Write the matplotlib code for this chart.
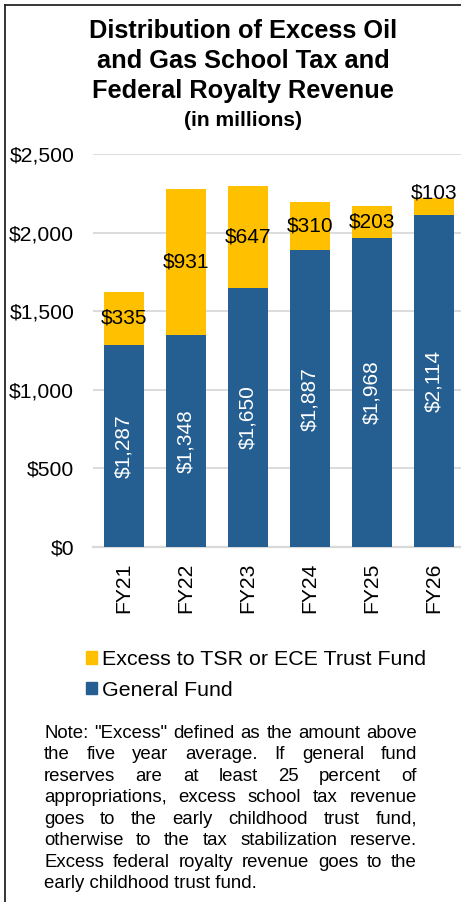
import matplotlib
matplotlib.use("Agg")
import matplotlib.pyplot as plt
from matplotlib.patches import Patch
from matplotlib.lines import Line2D

plt.rcParams["font.family"] = ["Liberation Sans", "DejaVu Sans"]

years = ["FY21", "FY22", "FY23", "FY24", "FY25", "FY26"]
general_fund = [1287, 1348, 1650, 1887, 1968, 2114]
excess = [335, 931, 647, 310, 203, 103]
y_ticks = [0, 500, 1000, 1500, 2000, 2500]

BLUE = "#255E91"
GOLD = "#FFC000"
GRID = "#D9D9D9"

W, H = 461, 902
fig = plt.figure(figsize=(W / 100, H / 100), dpi=100)


def px(x, y):
    """pixel coords (top-left origin) -> figure fraction"""
    return x / W, 1 - y / H


# outer frame (only left and top edges are visible in the crop)
fig.add_artist(Line2D([4.5 / W, 4.5 / W], [0, 1 - 4.5 / H], transform=fig.transFigure,
                      color="#262626", lw=1.3))
fig.add_artist(Line2D([4.5 / W, 1], [1 - 4.5 / H, 1 - 4.5 / H], transform=fig.transFigure,
                      color="#262626", lw=1.3))

# title
title_lines = ["Distribution of Excess Oil", "and Gas School Tax and", "Federal Royalty Revenue"]
for i, line in enumerate(title_lines):
    fig.text(*px(243, 37.5 + 30.3 * i), line, ha="center", va="baseline",
             fontsize=18.3, fontweight="bold")
fig.text(*px(243, 125.5), "(in millions)", ha="center", va="baseline",
         fontsize=15.2, fontweight="bold")

# chart
ax = fig.add_axes([93 / W, (H - 547) / H, 372 / W, 393 / H])
x = range(len(years))
ax.bar(x, general_fund, width=0.645, color=BLUE, zorder=3, label="General Fund")
ax.bar(x, excess, width=0.645, bottom=general_fund, color=GOLD, zorder=3,
       label="Excess to TSR or ECE Trust Fund")

for i, (g, e) in enumerate(zip(general_fund, excess)):
    ax.text(i, g / 2, f"${g:,}", rotation=90, ha="center", va="center",
            color="white", fontsize=15, zorder=4)
    # small segments: Excel pushes the label just above the bar
    ey = g + e / 2 if e > 150 else g + e + 35
    ax.text(i, ey, f"${e:,}", ha="center", va="center", color="black",
            fontsize=15, zorder=4)

ax.set_xlim(-0.5, len(years) - 0.5)
ax.set_ylim(0, 2500)
ax.set_yticks(y_ticks)
ax.set_yticklabels([f"${v:,}" for v in y_ticks])
ax.set_xticks(list(x))
ax.set_xticklabels(years, rotation=90)
ax.tick_params(axis="y", length=0, pad=13.5, labelsize=15.2)
ax.tick_params(axis="x", length=0, pad=11, labelsize=15.2)
ax.yaxis.grid(True, color=GRID, lw=1.3, zorder=0)
for s in ["top", "right", "left"]:
    ax.spines[s].set_visible(False)
ax.spines["bottom"].set_color(GRID)
ax.spines["bottom"].set_linewidth(1.6)
ax.spines["bottom"].set_zorder(2)

handles = [Patch(color=GOLD, label="Excess to TSR or ECE Trust Fund"),
           Patch(color=BLUE, label="General Fund")]
fig.legend(handles=handles, loc="upper left", bbox_to_anchor=px(86, 650),
           frameon=False, fontsize=15.4, handlelength=0.5, handleheight=0.5,
           handletextpad=0.25, labelspacing=0.56, borderpad=0, borderaxespad=0)

# justified note text
note_lines = [
    'Note: "Excess" defined as the amount above',
    "the five year average. If general fund",
    "reserves are at least 25 percent of",
    "appropriations, excess school tax revenue",
    "goes to the early childhood trust fund,",
    "otherwise to the tax stabilization reserve.",
    "Excess federal royalty revenue goes to the",
    "early childhood trust fund.",
]
left, right = 44, 417
renderer = fig.canvas.get_renderer()
for k, line in enumerate(note_lines):
    yb = 738 + 21.45 * k
    if k == len(note_lines) - 1:
        fig.text(*px(left, yb), line, ha="left", va="baseline", fontsize=13.4)
        continue
    words = line.split()
    texts = [fig.text(0, 0, w, ha="left", va="baseline", fontsize=13.4) for w in words]
    widths = [t.get_window_extent(renderer).width for t in texts]
    gap = (right - left - sum(widths)) / (len(words) - 1)
    cx = left
    for t, w in zip(texts, widths):
        t.set_position(px(cx, yb))
        cx += w + gap

fig.savefig("out.png", dpi=100)
